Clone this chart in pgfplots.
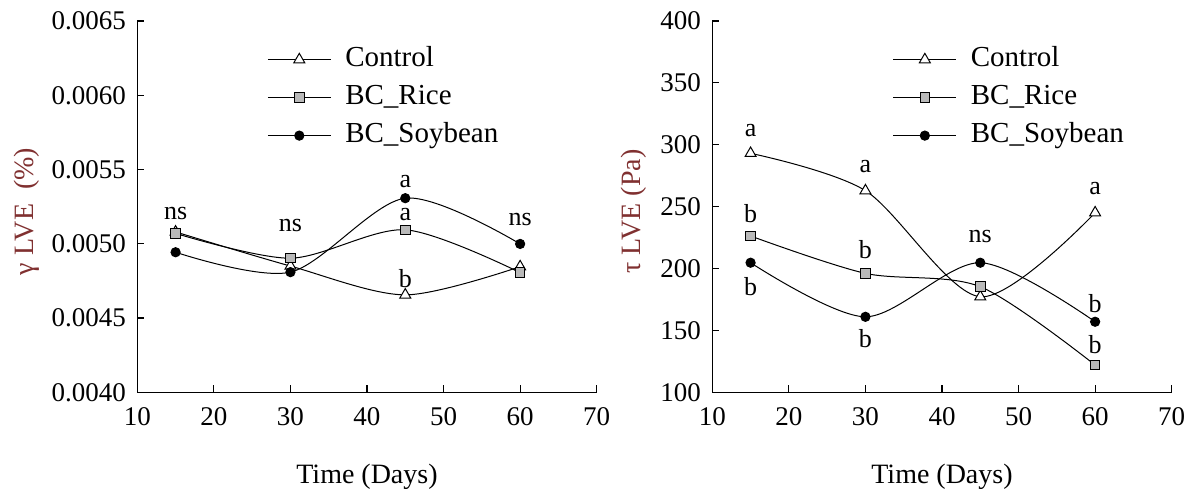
\documentclass[border=0pt]{standalone}
\usepackage{fontspec}
\setmainfont{Liberation Serif}
\usepackage{pgfplots}
\pgfplotsset{compat=1.18}
\definecolor{lab}{RGB}{128,48,48}
\definecolor{mgray}{RGB}{185,185,185}

\pgfplotstableread{
x y
15 0.00508
30 0.00485
45 0.004656
60 0.004846
}\leftcontrol
\pgfplotstableread{
x y
15 0.00507
30 0.004903
45 0.005094
60 0.004806
}\leftrice
\pgfplotstableread{
x y
15 0.004943
30 0.004809
45 0.005307
60 0.004999
}\leftsoy
\pgfplotstableread{
x y
15 293.1
30 262.9
45 177.2
60 245.1
}\rightcontrol
\pgfplotstableread{
x y
15 226.3
30 196.1
45 185.3
60 122
}\rightrice
\pgfplotstableread{
x y
15 204.7
30 161
45 204.7
60 157
}\rightsoy

\pgfplotsset{
  mystyle/.style={
    scale only axis, width=459.4pt, height=371.3pt,
    axis x line*=bottom, axis y line*=left,
    axis line style={-, line width=1.4pt, black},
    xmin=10, xmax=70, xtick={10,20,30,40,50,60,70},
    tick align=inside, major tick length=7pt,
    tick style={line width=1.2pt, black},
    /pgf/number format/assume math mode=true,
    ticklabel style={font=\fontsize{27}{32}\selectfont},
    xticklabel style={yshift=-12pt},
    yticklabel style={xshift=-8pt},
    scaled y ticks=false,
    clip=false,
    xlabel={Time (Days)},
    xlabel style={font=\fontsize{28}{33}\selectfont, at={(axis description cs:0.5,-0.228)}, anchor=center},
    legend style={draw=none, fill=none, inner sep=0pt, outer sep=0pt,
      font=\fontsize{29}{34}\selectfont, row sep=12pt,
      nodes={inner sep=0pt, text height=20pt, text depth=6pt},
      /tikz/every odd column/.append style={column sep=14pt}},
    legend cell align=left,
    legend image code/.code={
      \draw[mark repeat=2, mark phase=2] plot coordinates {(0pt,0pt) (31.5pt,0pt) (63pt,0pt)};
    },
    every axis plot/.append style={black, line width=1pt, smooth},
  },
  ctrl/.style={mark=triangle*, mark size=6.3pt, mark options={fill=white, draw=black, line width=1pt}},
  rice/.style={mark=square*, mark size=4.8pt, mark options={fill=mgray, draw=black, line width=1pt}},
  soy/.style={mark=*, mark size=4.6pt, mark options={fill=black, draw=black}},
}

\begin{document}
\begin{tikzpicture}
\useasboundingbox (0,0) rectangle (1197pt,493pt);
\begin{axis}[mystyle, at={(137.3pt,100.7pt)}, anchor=south west,
  ymin=0.0040, ymax=0.0065,
  ytick={0.0040,0.0045,0.0050,0.0055,0.0060,0.0065},
  yticklabels={0.0040,0.0045,0.0050,0.0055,0.0060,0.0065},
  ylabel={γ LVE\ \ (\%)},
  ylabel style={font=\fontsize{28}{33}\selectfont, color=lab, at={(axis description cs:-0.240,0.487)}, anchor=center},
  legend style={at={(axis description cs:0.283,0.931)}, anchor=north west},
]
\addplot[ctrl] table[x=x,y=y] {\leftcontrol};
\addplot[rice] table[x=x,y=y] {\leftrice};
\addplot[soy] table[x=x,y=y] {\leftsoy};
\legend{Control,BC\_Rice,BC\_Soybean}
\begin{scope}[every node/.style={font=\fontsize{26}{30}\selectfont}]
\node at (axis cs:15,0.005206) {ns};
\node at (axis cs:30,0.005121) {ns};
\node at (axis cs:45,0.005419) {a};
\node at (axis cs:45,0.005195) {a};
\node at (axis cs:45,0.004768) {b};
\node at (axis cs:60,0.005161) {ns};
\end{scope}
\end{axis}

\begin{axis}[mystyle, at={(712.3pt,100.7pt)}, anchor=south west,
  ymin=100, ymax=400,
  ytick={100,150,200,250,300,350,400},
  ylabel={τ LVE (Pa)},
  ylabel style={font=\fontsize{28}{33}\selectfont, color=lab, at={(axis description cs:-0.170,0.487)}, anchor=center},
  legend style={at={(axis description cs:0.393,0.931)}, anchor=north west},
]
\addplot[ctrl] table[x=x,y=y] {\rightcontrol};
\addplot[rice] table[x=x,y=y] {\rightrice};
\addplot[soy] table[x=x,y=y] {\rightsoy};
\legend{Control,BC\_Rice,BC\_Soybean}
\begin{scope}[every node/.style={font=\fontsize{26}{30}\selectfont}]
\node at (axis cs:15,311.9) {a};
\node at (axis cs:30,282.3) {a};
\node at (axis cs:60,264.8) {a};
\node at (axis cs:15,244.6) {b};
\node at (axis cs:15,185.3) {b};
\node at (axis cs:30,215) {b};
\node at (axis cs:30,143.6) {b};
\node at (axis cs:45,225.7) {ns};
\node at (axis cs:60,171.9) {b};
\node at (axis cs:60,138.2) {b};
\end{scope}
\end{axis}
\end{tikzpicture}
\end{document}
